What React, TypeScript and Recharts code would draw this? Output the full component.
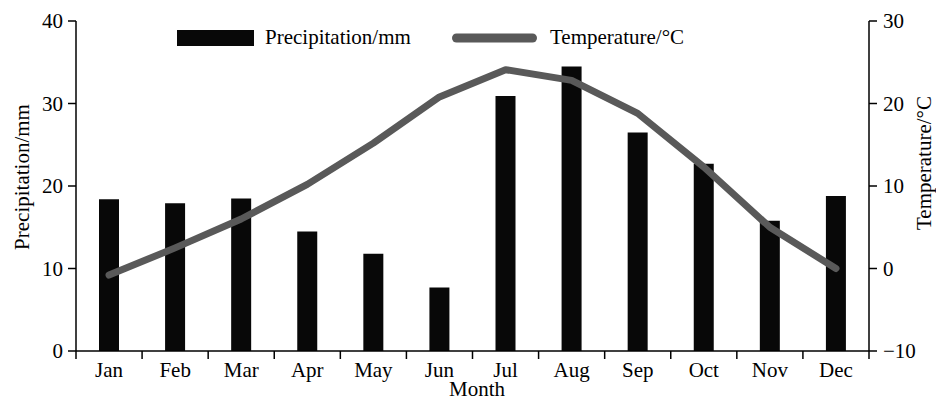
import { Bar, ComposedChart, Legend, Line, XAxis, YAxis } from "recharts";

const MONTHS = ["Jan", "Feb", "Mar", "Apr", "May", "Jun", "Jul", "Aug", "Sep", "Oct", "Nov", "Dec"];
const PRECIP = [18.4, 17.9, 18.5, 14.5, 11.8, 7.7, 30.9, 34.5, 26.5, 22.7, 15.8, 18.8];
const TEMP = [-0.8, 2.5, 6.0, 10.2, 15.2, 20.8, 24.1, 22.8, 18.8, 12.3, 5.0, 0.0];
const PRECIP_TICKS = [0, 10, 20, 30, 40];
const TEMP_TICKS = [-10, 0, 10, 20, 30];

const W = 936;
const H = 401;
const LEFT_W = 76; // left axis box
const RIGHT_W = 67; // right axis box
const X_H = 50;
const BAND = (W - LEFT_W - RIGHT_W) / MONTHS.length;

const FONT = '"Liberation Serif", "Times New Roman", serif';
const FS = 21;
const INK = "#000";
const BAR_FILL = "#080808";
const LINE_COLOR = "#595959";
const TICK = { fontSize: FS, fill: INK, fontFamily: FONT };

const data = MONTHS.map((m, i) => ({ month: m, precip: PRECIP[i], temp: TEMP[i] }));

const fmtMinus = (v: number) => String(v).replace("-", "\u2212");

// month label at band centre, tick marks at band edges (Excel style)
function MonthTick(props: any) {
  const { x, y, payload, index } = props;
  const last = index === MONTHS.length - 1;
  return (
    <g>
      <line x1={x - BAND / 2} x2={x - BAND / 2} y1={y} y2={y + 8} stroke={INK} strokeWidth={1.5} />
      {last && <line x1={x + BAND / 2} x2={x + BAND / 2} y1={y} y2={y + 8} stroke={INK} strokeWidth={1.5} />}
      <text x={x} y={y + 26} textAnchor="middle" fontSize={FS} fontFamily={FONT} fill={INK}>
        {payload.value}
      </text>
    </g>
  );
}

function LegendBox() {
  return (
    <svg width={W} height={60} style={{ display: "block" }}>
      <rect x={177} y={30} width={77} height={16} fill={BAR_FILL} />
      <text x={265} y={44} fontSize={FS} fontFamily={FONT} fill={INK}>
        Precipitation/mm
      </text>
      <line x1={456.5} x2={532.5} y1={38} y2={38} stroke={LINE_COLOR} strokeWidth={9} strokeLinecap="round" />
      <text x={550} y={44} fontSize={FS} fontFamily={FONT} fill={INK}>
        Temperature/°C
      </text>
    </svg>
  );
}

function VLabel({ x, y, text }: { x: number; y: number; text: string }) {
  return (
    <text
      x={x}
      y={y}
      transform={`rotate(-90, ${x}, ${y})`}
      textAnchor="middle"
      dominantBaseline="central"
      fontSize={FS}
      fontFamily={FONT}
      fill={INK}
    >
      {text}
    </text>
  );
}

export default function App() {
  return (
    <div style={{ position: "absolute", left: 0, top: 0, width: W, height: H, background: "#fff" }}>
      <ComposedChart width={W} height={H} data={data} margin={{ top: 21, right: 0, bottom: 0, left: 0 }}>
        <XAxis
          dataKey="month"
          height={X_H}
          axisLine={{ stroke: INK, strokeWidth: 1.5 }}
          tickLine={false}
          tickSize={0}
          tickMargin={0}
          tick={<MonthTick />}
          interval={0}
          label={{
            content: () => (
              <text x={477} y={396} textAnchor="middle" fontSize={FS} fontFamily={FONT} fill={INK}>
                Month
              </text>
            ),
          }}
        />
        <YAxis
          yAxisId="left"
          width={LEFT_W}
          domain={[0, 40]}
          ticks={PRECIP_TICKS}
          tick={TICK}
          tickSize={8}
          tickMargin={5}
          axisLine={{ stroke: INK, strokeWidth: 1.5 }}
          tickLine={{ stroke: INK, strokeWidth: 1.5 }}
          label={{ content: () => <VLabel x={22} y={177} text="Precipitation/mm" /> }}
        />
        <YAxis
          yAxisId="right"
          orientation="right"
          width={RIGHT_W}
          domain={[-10, 30]}
          ticks={TEMP_TICKS}
          tick={TICK}
          tickSize={8}
          tickMargin={6}
          tickFormatter={fmtMinus}
          axisLine={{ stroke: INK, strokeWidth: 1.5 }}
          tickLine={{ stroke: INK, strokeWidth: 1.5 }}
          label={{ content: () => <VLabel x={924} y={163} text="Temperature/°C" /> }}
        />
        <Legend
          layout="horizontal"
          verticalAlign="middle"
          align="center"
          content={() => <LegendBox />}
          wrapperStyle={{ position: "absolute", left: 0, top: 0, width: W }}
        />
        <Bar yAxisId="left" dataKey="precip" name="Precipitation/mm" fill={BAR_FILL} barSize={20} isAnimationActive={false} />
        <Line
          yAxisId="right"
          type="linear"
          dataKey="temp"
          name="Temperature/°C"
          stroke={LINE_COLOR}
          strokeWidth={7}
          strokeLinecap="round"
          strokeLinejoin="round"
          dot={false}
          activeDot={false}
          isAnimationActive={false}
        />
      </ComposedChart>
    </div>
  );
}
